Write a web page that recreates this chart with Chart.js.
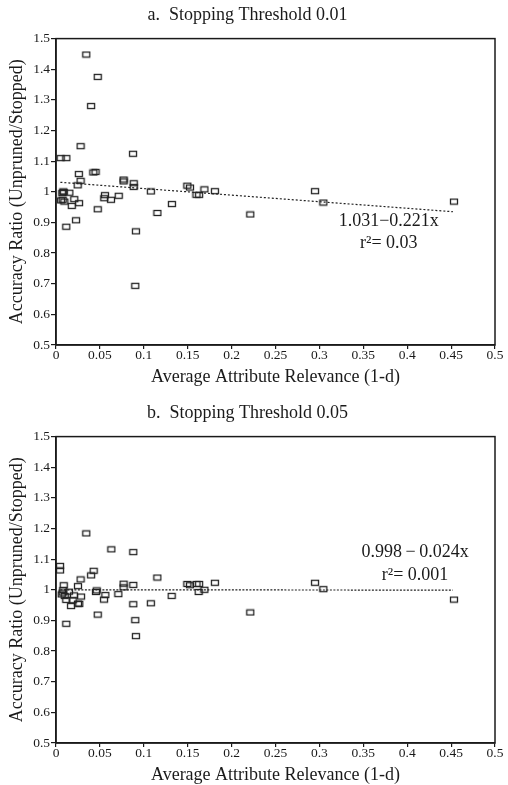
<!DOCTYPE html>
<html>
<head>
<meta charset="utf-8"/>
<title>Accuracy Ratio vs Attribute Relevance</title>
<script src="https://cdn.jsdelivr.net/npm/chart.js"></script>
<style>
  html, body { margin: 0; padding: 0; background: #fff; overflow: hidden; }
  .panel { position: absolute; left: 0; width: 508px; height: 392px; }
</style>
</head>
<body>
<div class="panel" style="top:0"><canvas id="chartA" width="508" height="392"></canvas></div>
<div class="panel" style="top:398px"><canvas id="chartB" width="508" height="392"></canvas></div>
<script>
// ticks
const xTicks = [0, 0.05, 0.1, 0.15, 0.2, 0.25, 0.3, 0.35, 0.4, 0.45, 0.5];
const xTickLabels = ['0', '0.05', '0.1', '0.15', '0.2', '0.25', '0.3', '0.35', '0.4', '0.45', '0.5'];
const yTicks = [0.5, 0.6, 0.7, 0.8, 0.9, 1, 1.1, 1.2, 1.3, 1.4, 1.5];
const yTickLabels = ['0.5', '0.6', '0.7', '0.8', '0.9', '1', '1.1', '1.2', '1.3', '1.4', '1.5'];

// a. stopping threshold 0.01
const relevanceA = [0.0345, 0.0475, 0.040, 0.028, 0.0053, 0.0118, 0.0877, 0.026, 0.028, 0.0247,
  0.0425, 0.045, 0.077, 0.077, 0.0885, 0.0885, 0.108, 0.0083, 0.0072, 0.0152,
  0.0076, 0.0057, 0.0095, 0.0208, 0.018, 0.0262, 0.0558, 0.055, 0.0626, 0.0714,
  0.0475, 0.0228, 0.0117, 0.091, 0.0903, 0.1155, 0.132, 0.1496, 0.1526, 0.160,
  0.163, 0.169, 0.181, 0.2213, 0.295, 0.3045, 0.4533, 0.0088];
const ratioA = [1.448, 1.375, 1.280, 1.149, 1.110, 1.110, 1.124, 1.058, 1.036, 1.021,
  1.063, 1.065, 1.040, 1.034, 1.028, 1.016, 1.001, 1.001, 0.996, 0.997,
  0.974, 0.972, 0.968, 0.976, 0.954, 0.963, 0.989, 0.979, 0.974, 0.987,
  0.943, 0.907, 0.886, 0.871, 0.693, 0.931, 0.960, 1.020, 1.014, 0.990,
  0.990, 1.008, 1.002, 0.926, 1.002, 0.965, 0.968, 0.999];
const fitXA = [0.005, 0.452];
const fitYA = [1.031, 0.935];
const fitTextA = ['1.031\u22120.221x', 'r\u00b2= 0.03'];

// b. stopping threshold 0.05
const relevanceB = [0.0345, 0.063, 0.088, 0.0046, 0.0046, 0.0429, 0.040, 0.028, 0.1154, 0.0088,
  0.025, 0.077, 0.077, 0.088, 0.1496, 0.1526, 0.160, 0.163, 0.1625, 0.169,
  0.181, 0.1317, 0.0083, 0.0076, 0.0099, 0.0117, 0.0148, 0.0065, 0.0205, 0.0285,
  0.019, 0.0171, 0.025, 0.0265, 0.0464, 0.0455, 0.0562, 0.0547, 0.071, 0.0475,
  0.0117, 0.088, 0.0903, 0.091, 0.108, 0.2213, 0.295, 0.3045, 0.4533];
const ratioB = [1.184, 1.132, 1.123, 1.078, 1.063, 1.062, 1.047, 1.034, 1.040, 1.015,
  1.012, 1.020, 1.008, 1.016, 1.019, 1.015, 1.019, 1.019, 0.993, 1.000,
  1.023, 0.980, 0.999, 0.991, 0.980, 0.967, 0.994, 0.985, 0.982, 0.978,
  0.966, 0.947, 0.955, 0.954, 0.998, 0.993, 0.983, 0.968, 0.986, 0.919,
  0.889, 0.953, 0.901, 0.849, 0.956, 0.926, 1.023, 1.002, 0.968];
const fitXB = [0.005, 0.452];
const fitYB = [1.0, 0.999];
const fitTextB = ['0.998\u2009\u2212\u20090.024x', 'r\u00b2= 0.001'];

const serif = '"Liberation Serif", "Times New Roman", serif';
const ink = '#1a1a1a';

// open rectangle marker
const marker = document.createElement('canvas');
marker.width = 10; marker.height = 8;
(function () {
  const c = marker.getContext('2d');
  c.strokeStyle = '#222';
  c.lineWidth = 1.3;
  c.strokeRect(1.5, 1.5, 7, 5);
})();

const framePlugin = {
  id: 'frame',
  afterDraw(chart) {
    const { ctx, chartArea: a } = chart;
    ctx.save();
    ctx.strokeStyle = ink;
    ctx.lineWidth = 1.5;
    ctx.strokeRect(a.left, a.top, a.right - a.left, a.bottom - a.top);
    ctx.restore();
  }
};

const fitLabelPlugin = {
  id: 'fitLabel',
  afterDatasetsDraw(chart, args, opts) {
    const ctx = chart.ctx;
    const px = chart.scales.x.getPixelForValue(opts.x);
    ctx.save();
    ctx.font = '18px ' + serif;
    ctx.fillStyle = ink;
    ctx.textAlign = 'center';
    ctx.textBaseline = 'middle';
    opts.lines.forEach((t, i) => ctx.fillText(t, px, chart.scales.y.getPixelForValue(opts.y[i])));
    ctx.restore();
  }
};

function toPoints(xs, ys) {
  return xs.map((x, i) => ({ x: x, y: ys[i] }));
}

function makeChart(id, title, xs, ys, fx, fy, dash, fitText, labelX, labelY) {
  return new Chart(document.getElementById(id), {
    type: 'scatter',
    data: {
      datasets: [{
        data: toPoints(xs, ys),
        pointStyle: marker,
        pointRadius: 4,
        pointHoverRadius: 4
      }, {
        type: 'line',
        data: toPoints(fx, fy),
        borderColor: '#222',
        borderWidth: 1.2,
        borderDash: dash,
        pointRadius: 0,
        fill: false
      }]
    },
    options: {
      responsive: false,
      animation: false,
      events: [],
      layout: { padding: { left: 0, right: 13, top: 0, bottom: 0 } },
      plugins: {
        legend: { display: false },
        tooltip: { enabled: false },
        title: {
          display: true,
          text: title,
          color: ink,
          font: { family: serif, size: 18, weight: 'normal' },
          padding: { top: 4, bottom: 13 }
        },
        fitLabel: { x: labelX, y: labelY, lines: fitText }
      },
      scales: {
        x: {
          type: 'linear',
          min: 0, max: 0.5,
          afterFit: s => { s.height = 47; },
          afterBuildTicks: s => { s.ticks = xTicks.map(v => ({ value: v })); },
          ticks: {
            color: ink,
            font: { family: serif, size: 13.5 },
            padding: -2,
            maxRotation: 0,
            autoSkip: false,
            callback: (v, i) => xTickLabels[i]
          },
          grid: { drawOnChartArea: false, drawTicks: true, tickLength: 4, color: ink, lineWidth: 1.2 },
          border: { display: true, color: ink, width: 1.5 },
          title: {
            display: true,
            text: 'Average Attribute Relevance (1-d)',
            color: ink,
            font: { family: serif, size: 18 },
            padding: { top: 0, bottom: 4 }
          }
        },
        y: {
          type: 'linear',
          min: 0.5, max: 1.5,
          afterFit: s => { s.width = 56; },
          afterBuildTicks: s => { s.ticks = yTicks.map(v => ({ value: v })); },
          ticks: {
            color: ink,
            font: { family: serif, size: 13.5 },
            padding: 1,
            autoSkip: false,
            callback: (v, i) => yTickLabels[i]
          },
          grid: { drawOnChartArea: false, drawTicks: true, tickLength: 5, color: ink, lineWidth: 1.2 },
          border: { display: true, color: ink, width: 1.5 },
          title: {
            display: true,
            text: 'Accuracy Ratio (Unpruned/Stopped)',
            color: ink,
            font: { family: serif, size: 18 },
            padding: { top: 6, bottom: 0 }
          }
        }
      }
    },
    plugins: [framePlugin, fitLabelPlugin]
  });
}

makeChart('chartA', 'a.  Stopping Threshold 0.01', relevanceA, ratioA, fitXA, fitYA, [2, 2],
  fitTextA, 0.379, [0.905, 0.833]);
makeChart('chartB', 'b.  Stopping Threshold 0.05', relevanceB, ratioB, fitXB, fitYB, [2, 1.5],
  fitTextB, 0.409, [1.123, 1.048]);
</script>
</body>
</html>
